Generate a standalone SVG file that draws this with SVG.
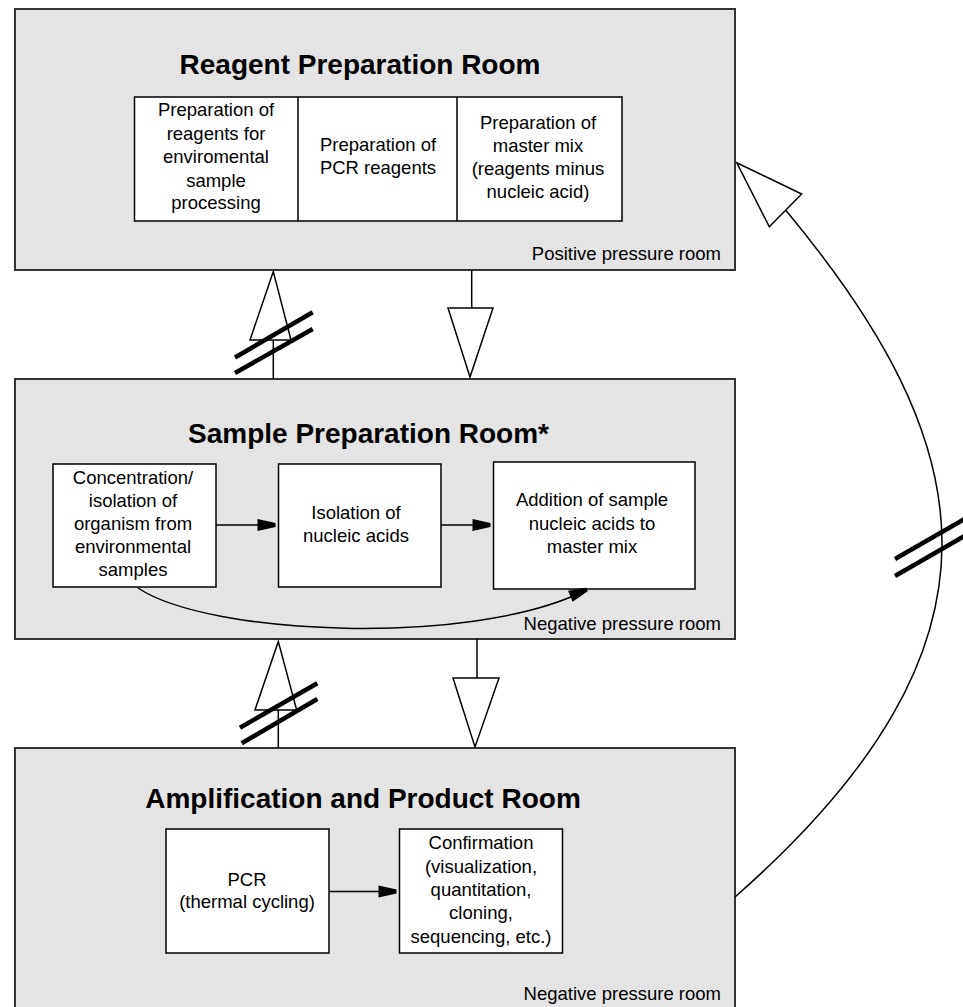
<svg xmlns="http://www.w3.org/2000/svg" width="963" height="1007" viewBox="0 0 963 1007">
<style>
.room{fill:#e4e4e4;stroke:#333;stroke-width:2}
.box{fill:#fff;stroke:#000;stroke-width:1.5}
.title{font-family:"Liberation Sans",Arial,sans-serif;font-size:28px;font-weight:bold;text-anchor:middle;fill:#000}
.t{font-family:"Liberation Sans",Arial,sans-serif;font-size:18.5px;text-anchor:middle;fill:#000}
.lbl{font-family:"Liberation Sans",Arial,sans-serif;font-size:18.5px;text-anchor:end;fill:#000}
.ln{fill:none;stroke:#000;stroke-width:1.5}
.hollow{fill:#fff;stroke:#000;stroke-width:1.5;stroke-linejoin:miter}
.hash{stroke:#000;stroke-width:4.5;fill:none}
.head{fill:#000;stroke:none}
</style>
<defs>
<path id="ah" class="head" d="M-18,-6 L0,-2 L0,2 L-18,6 Z"/>
</defs>
<rect width="963" height="1007" fill="#fff"/>
<g id="reagent-room">
<rect class="room" x="15" y="9" width="720" height="261"/>
<text class="title" x="360" y="74">Reagent Preparation Room</text>
<rect class="box" x="134.5" y="97" width="487.5" height="124"/>
<line class="ln" x1="298" y1="97" x2="298" y2="221"/>
<line class="ln" x1="457" y1="97" x2="457" y2="221"/>
<text class="t" x="216"><tspan x="216" y="116">Preparation of</tspan><tspan x="216" y="139.5">reagents for</tspan><tspan x="216" y="163">enviromental</tspan><tspan x="216" y="186.5">sample</tspan><tspan x="216" y="209">processing</tspan></text>
<text class="t" x="378"><tspan x="378" y="151">Preparation of</tspan><tspan x="378" y="174">PCR reagents</tspan></text>
<text class="t" x="538"><tspan x="538" y="129">Preparation of</tspan><tspan x="538" y="152">master mix</tspan><tspan x="538" y="175">(reagents minus</tspan><tspan x="538" y="198">nucleic acid)</tspan></text>
<text class="lbl" x="721" y="260">Positive pressure room</text>
</g>
<g id="sample-room">
<rect class="room" x="15" y="379" width="720" height="260"/>
<text class="title" x="368.5" y="443">Sample Preparation Room*</text>
<text class="lbl" x="721" y="630">Negative pressure room</text>
</g>
<g id="concentration">
<rect class="box" x="53" y="464" width="163" height="123"/>
<text class="t" x="133"><tspan x="133" y="484">Concentration/</tspan><tspan x="133" y="507">isolation of</tspan><tspan x="133" y="530">organism from</tspan><tspan x="133" y="553">environmental</tspan><tspan x="133" y="576">samples</tspan></text>
</g>
<g id="isolation">
<rect class="box" x="278.5" y="464" width="162.5" height="123"/>
<text class="t" x="356"><tspan x="356" y="519">Isolation of</tspan><tspan x="356" y="542">nucleic acids</tspan></text>
</g>
<g id="addition">
<rect class="box" x="493.5" y="462" width="201.5" height="127"/>
<text class="t" x="592"><tspan x="592" y="506">Addition of sample</tspan><tspan x="592" y="529.5">nucleic acids to</tspan><tspan x="592" y="553">master mix</tspan></text>
</g>
<g id="amplification-room">
<rect class="room" x="15" y="748" width="720" height="280"/>
<text class="title" x="363" y="808">Amplification and Product Room</text>
<text class="lbl" x="721" y="1000">Negative pressure room</text>
</g>
<g id="pcr">
<rect class="box" x="166" y="829" width="163" height="124"/>
<text class="t" x="247"><tspan x="247" y="886">PCR</tspan><tspan x="247" y="908">(thermal cycling)</tspan></text>
</g>
<g id="confirmation">
<rect class="box" x="399.5" y="829" width="163" height="124"/>
<text class="t" x="481"><tspan x="481" y="849">Confirmation</tspan><tspan x="481" y="872.5">(visualization,</tspan><tspan x="481" y="896">quantitation,</tspan><tspan x="481" y="919">cloning,</tspan><tspan x="481" y="942.5">sequencing, etc.)</tspan></text>
</g>
<g id="connectors">
<line class="ln" x1="216" y1="525" x2="270" y2="525"/>
<use href="#ah" transform="translate(275.5,525)"/>
<line class="ln" x1="441" y1="525" x2="485" y2="525"/>
<use href="#ah" transform="translate(490.5,525)"/>
<line class="ln" x1="329" y1="891.5" x2="391" y2="891.5"/>
<use href="#ah" transform="translate(396.5,891.5)"/>
<path class="ln" d="M138,588 C210,636 470,646 582,592"/>
<use href="#ah" transform="translate(587,589.5) rotate(-22)"/>
<line class="ln" x1="273.3" y1="340" x2="273.3" y2="379"/>
<polygon class="hollow" points="273.3,271.5 250,340 291,340"/>
<line class="hash" x1="235" y1="357.5" x2="312.7" y2="312.3"/>
<line class="hash" x1="235" y1="373" x2="312.7" y2="329"/>
<line class="ln" x1="471.7" y1="270" x2="471.7" y2="308"/>
<polygon class="hollow" points="448,308 493,308 470,377"/>
<line class="ln" x1="278.3" y1="710" x2="278.3" y2="748"/>
<polygon class="hollow" points="278.3,641.5 255,710 296.7,710"/>
<line class="hash" x1="240" y1="727.7" x2="317.3" y2="683.3"/>
<line class="hash" x1="241.7" y1="743.3" x2="317.3" y2="699"/>
<line class="ln" x1="477" y1="639" x2="477" y2="678"/>
<polygon class="hollow" points="453,678 499,678 475,747"/>
<path class="ln" d="M735,897 C1026,641 979,443 786,210.5"/>
<polygon class="hollow" points="736.7,162.7 801.7,194 769.3,226.7"/>
<line class="hash" x1="895" y1="559" x2="975" y2="513"/>
<line class="hash" x1="895" y1="576" x2="975" y2="530"/>
</g>
</svg>
